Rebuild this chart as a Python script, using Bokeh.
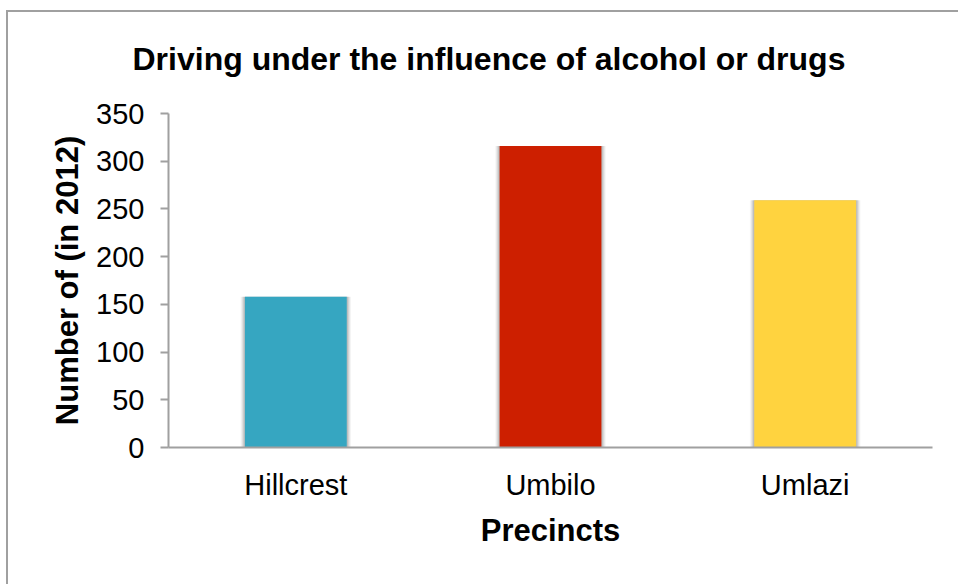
from bokeh.plotting import figure
from bokeh.models import ColumnDataSource
from bokeh.embed import file_html
from bokeh.resources import INLINE

precincts = ["Hillcrest", "Umbilo", "Umlazi"]
counts = [158, 316, 259]
colors = ["#36A6C1", "#CD1F00", "#FFD33F"]
y_ticks = [0, 50, 100, 150, 200, 250, 300, 350]

src = ColumnDataSource(dict(x=precincts, top=counts, color=colors))

p = figure(x_range=precincts, y_range=(0, 350), width=958, height=584,
           output_backend="svg", toolbar_location=None,
           min_border_left=168, min_border_right=26, min_border_top=113, min_border_bottom=137)

p.title.text = "Driving under the influence of alcohol or drugs"
p.title.text_font = "Liberation Sans"
p.title.text_font_size = "32px"
p.title.text_font_style = "bold"
p.title.text_color = "#000000"
p.title.align = "left"
p.title.offset = -36
p.title.standoff = 73

# soft shadow
for k, a in [(0.034, 0.04), (0.026, 0.06), (0.018, 0.08), (0.010, 0.10)]:
    p.vbar(x="x", top="top", width=0.4 + k, bottom=0, source=src,
           fill_color="#000000", fill_alpha=a, line_color=None)
p.vbar(x="x", top="top", width=0.4, source=src, fill_color="color", line_color=None)

p.outline_line_color = None
p.xgrid.grid_line_color = None
p.ygrid.grid_line_color = None
p.background_fill_color = "white"
p.border_fill_color = None

for ax in (p.xaxis[0], p.yaxis[0]):
    ax.axis_line_color = "#A0A0A0"
    ax.axis_line_width = 2
    ax.major_tick_line_color = "#A0A0A0"
    ax.major_tick_line_width = 2
    ax.minor_tick_line_color = None
    ax.major_label_text_font = "Liberation Sans"
    ax.major_label_text_font_size = "29px"
    ax.major_label_text_color = "#000000"
    ax.axis_label_text_font = "Liberation Sans"
    ax.axis_label_text_font_size = "31px"
    ax.axis_label_text_font_style = "bold"
    ax.axis_label_text_color = "#000000"

p.yaxis.ticker = y_ticks
p.yaxis.major_tick_out = 8
p.yaxis.major_tick_in = 0
p.yaxis.major_label_standoff = 16
p.yaxis.axis_label = "Number of (in 2012)"
p.yaxis.axis_label_standoff = 8

p.xaxis.major_tick_line_color = None
p.xaxis.major_label_standoff = 15
p.xaxis.axis_label = "Precincts"
p.xaxis.axis_label_standoff = 9

p.x_range.range_padding = 0

p.styles = {
    "background": ("linear-gradient(#A0A0A0,#A0A0A0) 6px 10px / 2px 700px no-repeat, "
                   "linear-gradient(#A0A0A0,#A0A0A0) 6px 10px / 1000px 2px no-repeat, white"),
}

open("out.html", "w").write(file_html(p, INLINE))
